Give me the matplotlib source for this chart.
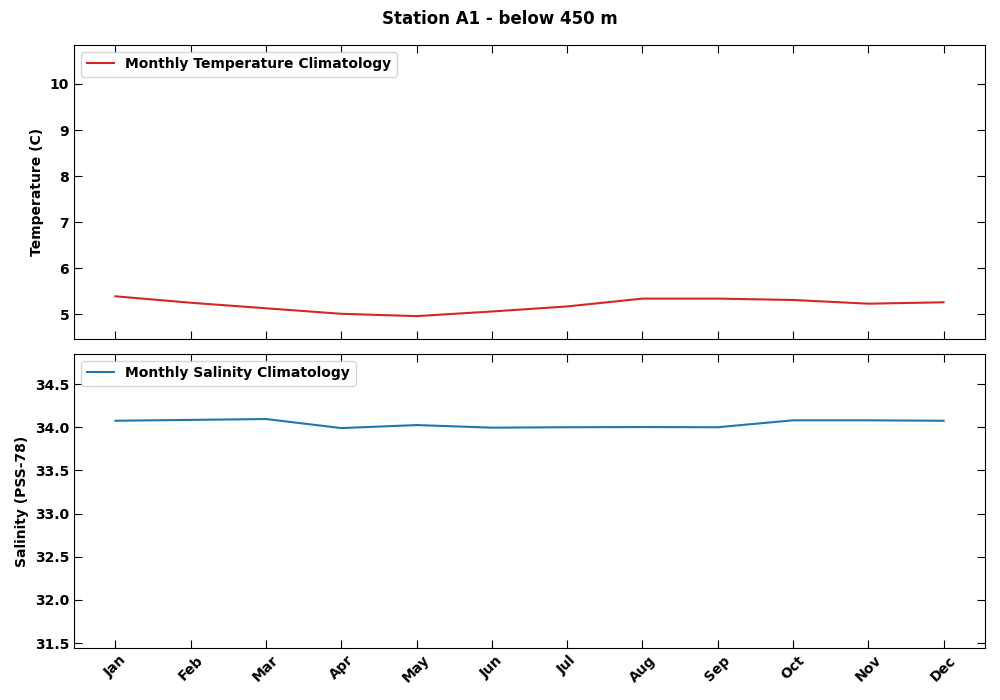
import matplotlib

matplotlib.use("Agg")

import matplotlib.pyplot as plt

MONTHS = ["Jan", "Feb", "Mar", "Apr", "May", "Jun", "Jul", "Aug", "Sep", "Oct", "Nov", "Dec"]
TEMPERATURE = [5.39, 5.25, 5.13, 5.01, 4.96, 5.06, 5.17, 5.34, 5.34, 5.31, 5.23, 5.26]
SALINITY = [34.075, 34.085, 34.095, 33.99, 34.025, 33.995, 34.0, 34.002, 34.0, 34.08, 34.08, 34.075]

plt.rcParams["font.weight"] = "bold"
plt.rcParams["axes.labelweight"] = "bold"

fig, (ax_t, ax_s) = plt.subplots(2, 1, figsize=(10, 7), dpi=100, sharex=True)
fig.subplots_adjust(left=0.074, right=0.985, top=0.936, bottom=0.074, hspace=0.05)

x = range(len(MONTHS))
ax_t.plot(x, TEMPERATURE, color="#d62728", label="Monthly Temperature Climatology")
ax_t.set_ylim(4.46, 10.85)
ax_t.set_ylabel("Temperature (C)")
ax_t.legend(loc="upper left")

ax_s.plot(x, SALINITY, color="#1f77b4", label="Monthly Salinity Climatology")
ax_s.set_ylim(31.44, 34.85)
ax_s.set_ylabel("Salinity (PSS-78)")
ax_s.legend(loc="upper left")
ax_s.set_xticks(list(x), MONTHS, rotation=45)

for ax in (ax_t, ax_s):
    ax.tick_params(direction="in", top=True, right=True, length=6)

fig.suptitle("Station A1 - below 450 m", fontweight="bold", fontsize=12, y=0.985)
fig.savefig("out.png")
